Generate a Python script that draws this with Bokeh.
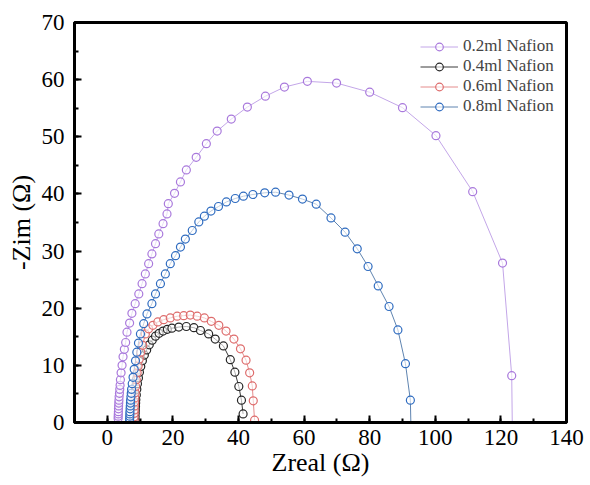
from bokeh.plotting import figure
from bokeh.models import SingleIntervalTicker, Legend, LegendItem
from bokeh.embed import file_html
from bokeh.resources import INLINE

# ---------------- data ----------------
labels = ["0.2ml Nafion", "0.4ml Nafion", "0.6ml Nafion", "0.8ml Nafion"]

x_02 = [3.3, 3.32, 3.35, 3.38, 3.4, 3.45, 3.5, 3.55, 3.6, 3.7, 3.8, 3.9, 4.0, 4.2, 4.5, 4.8,
        5.2, 5.6, 6.0, 6.8, 7.5, 8.5, 9.6, 10.6, 11.6, 12.6, 13.6, 14.7, 15.7, 17.0, 18.2,
        18.6, 20.5, 22.3, 24.1, 27.1, 30.2, 33.5, 37.8, 42.7, 48.2, 54.0, 61.0, 69.9, 80.0,
        90.0, 100.2, 111.4, 120.5, 123.3, 123.5]
y_02 = [0.7, 1.1, 1.5, 1.9, 2.4, 2.9, 3.4, 3.9, 4.5, 5.1, 5.8, 6.5, 7.5, 8.7, 10.0, 11.5,
        12.8, 14.0, 15.8, 17.4, 19.1, 20.8, 22.5, 24.3, 26.0, 27.8, 29.5, 31.3, 33.0, 34.8,
        36.5, 38.3, 40.1, 42.1, 44.2, 46.4, 48.8, 51.0, 53.1, 55.2, 57.1, 58.7, 59.7, 59.4,
        57.8, 55.1, 50.2, 40.4, 27.9, 8.2, -2.0]

x_04 = [8.5, 8.5, 8.52, 8.55, 8.6, 8.65, 8.7, 8.85, 9.0, 9.2, 9.5, 9.8, 10.2, 10.7, 11.3,
        12.0, 12.8, 13.7, 14.7, 15.8, 17.0, 18.3, 19.7, 21.8, 24.1, 26.4, 28.4, 30.9, 32.9,
        35.4, 37.5, 38.9, 40.1, 40.9, 41.4]
y_04 = [0.4, 1.0, 1.6, 2.2, 2.8, 3.4, 4.0, 4.8, 5.8, 6.8, 7.8, 8.8, 9.8, 10.8, 11.8,
        12.7, 13.6, 14.4, 15.1, 15.6, 16.0, 16.3, 16.5, 16.7, 16.8, 16.6, 16.1, 15.5, 14.6,
        13.4, 11.0, 8.8, 6.3, 3.9, 1.5]

x_06 = [8.2, 8.2, 8.22, 8.25, 8.3, 8.35, 8.4, 8.5, 8.65, 8.85, 9.1, 9.4, 9.75, 10.2, 10.8,
        11.6, 12.6, 13.9, 15.4, 17.2, 19.2, 21.3, 23.3, 25.3, 27.4, 29.6, 31.7, 34.0, 36.2,
        38.6, 40.6, 42.3, 43.4, 44.2, 44.5, 44.9]
y_06 = [0.4, 1.0, 1.6, 2.2, 2.9, 3.6, 4.3, 5.2, 6.3, 7.5, 8.7, 9.9, 11.1, 12.3, 13.5,
        15.5, 16.4, 17.0, 17.6, 18.0, 18.3, 18.6, 18.7, 18.8, 18.6, 18.3, 17.7, 17.0, 16.0,
        14.6, 12.9, 10.9, 8.7, 6.4, 3.8, 0.4]

x_08 = [6.8, 6.82, 6.85, 6.88, 6.9, 6.95, 7.0, 7.05, 7.1, 7.2, 7.3, 7.4, 7.6, 7.85, 8.2,
        8.6, 9.0, 9.5, 10.1, 11.1, 12.1, 13.6, 14.7, 16.2, 17.7, 19.2, 20.8, 22.3, 23.8,
        25.9, 27.9, 29.6, 31.6, 33.9, 36.3, 39.0, 41.5, 44.4, 48.0, 51.3, 55.4, 59.5, 63.7,
        68.2, 72.5, 76.2, 79.5, 82.6, 85.9, 88.6, 90.9, 92.4, 92.6]
y_08 = [0.3, 0.7, 1.1, 1.5, 1.9, 2.4, 2.9, 3.4, 3.9, 4.5, 5.1, 5.8, 6.8, 7.9, 9.3,
        10.8, 12.3, 13.9, 15.5, 17.3, 19.0, 20.8, 22.5, 24.3, 26.0, 27.8, 29.2, 30.7, 32.1,
        33.6, 35.1, 36.1, 37.0, 37.8, 38.6, 39.2, 39.6, 39.9, 40.2, 40.3, 39.8, 39.1, 38.2,
        35.8, 33.3, 30.4, 27.3, 23.9, 20.3, 16.2, 10.3, 3.9, -1.5]

marker_colors = ["#a979dc", "#262626", "#de6c6c", "#2f6cc0"]
line_colors = ["#c3a6e8", "#3a3a3a", "#e58c8c", "#5f84b0"]

series_x = [x_02, x_04, x_06, x_08]
series_y = [y_02, y_04, y_06, y_08]

FONT = "Liberation Serif"

p = figure(width=590, height=485, x_range=(-10, 140), y_range=(0, 70),
           output_backend="svg", toolbar_location=None,
           min_border_left=74, min_border_right=24, min_border_top=22, min_border_bottom=63)

items = []
for lab, xs, ys, mc, lc in zip(labels, series_x, series_y, marker_colors, line_colors):
    ln = p.line(xs, ys, line_color=lc, line_width=1)
    sc = p.scatter(xs, ys, marker="circle", size=8, line_color=mc, line_width=1.2,
                   fill_color="white", fill_alpha=0.6)
    items.append(LegendItem(label=lab, renderers=[ln, sc]))

# axes
p.xaxis.ticker = SingleIntervalTicker(interval=20, num_minor_ticks=2)
p.yaxis.ticker = SingleIntervalTicker(interval=10, num_minor_ticks=2)
p.xgrid.visible = False
p.ygrid.visible = False

for ax in (p.xaxis[0], p.yaxis[0]):
    ax.axis_line_width = 3
    ax.axis_line_color = "black"
    ax.major_tick_in = 7
    ax.major_tick_out = 0
    ax.minor_tick_in = 4
    ax.minor_tick_out = 0
    ax.major_tick_line_width = 2
    ax.minor_tick_line_width = 2
    ax.major_tick_line_color = "black"
    ax.minor_tick_line_color = "black"
    ax.major_label_text_font = FONT
    ax.major_label_text_font_size = "23px"
    ax.major_label_text_color = "black"
    ax.axis_label_text_font = FONT
    ax.axis_label_text_font_size = "26px"
    ax.axis_label_text_font_style = "normal"
    ax.axis_label_text_color = "black"

p.xaxis.axis_label = "Zreal (Ω)"
p.yaxis.axis_label = "-Zim (Ω)"
p.xaxis.major_label_standoff = 7
p.xaxis.axis_label_standoff = 0
p.yaxis.major_label_standoff = 10
p.yaxis.axis_label_standoff = 3

p.outline_line_color = "black"
p.outline_line_width = 3
p.outline_line_alpha = 1.0

legend = Legend(items=items, location=(346, 306))
legend.border_line_color = None
legend.background_fill_alpha = 0
legend.label_text_font = FONT
legend.label_text_font_size = "17px"
legend.glyph_width = 38
legend.glyph_height = 19
legend.label_height = 19
legend.spacing = 0
legend.padding = 10
legend.label_standoff = 5
p.add_layout(legend)

open("out.html", "w").write(file_html(p, INLINE))
